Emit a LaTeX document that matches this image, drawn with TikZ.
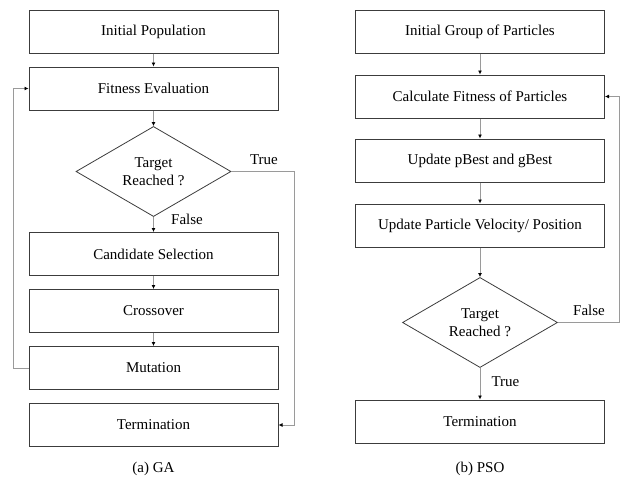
\documentclass[tikz,border=0pt]{standalone}
\usepackage{fontspec}
\setmainfont{Liberation Serif}
\usetikzlibrary{positioning,calc,shapes.geometric,arrows.meta}
\definecolor{boxline}{HTML}{3C3C3C}
\definecolor{flowline}{HTML}{9A9A9A}
\tikzset{box/.style={draw=boxline,line width=1pt,minimum width=249pt,minimum height=43pt,inner sep=0pt,font=\fontsize{15}{18}\selectfont},
  dec/.style={draw=boxline,line width=0.8pt,diamond,minimum width=155pt,minimum height=87pt,inner sep=0pt,align=center,font=\fontsize{15}{18}\selectfont},
  flow/.style={draw=flowline,line width=0.8pt,-{Latex[length=4pt,width=4pt,black]}},
  lbl/.style={font=\fontsize{15}{18}\selectfont,inner sep=0pt}}

\begin{document}
\begin{tikzpicture}[x=1pt,y=-1pt]
          \useasboundingbox (0,0) rectangle (622,479);

          % GA chain
          \node (init) [box] at (153.5,31.5) {Initial Population};
          \node (fit) [box,below=13pt of init] {Fitness Evaluation};
          \node (tgt) [dec] at (153.5,171.5) {Target\\Reached ?};
          \node (sel) [box] at (153.5,254) {Candidate Selection};
          \node (cross) [box,below=13pt of sel] {Crossover};
          \node (mut) [box,below=13pt of cross] {Mutation};
          \node (term) [box,below=13pt of mut] {Termination};

          \draw[flow] (init) -- (fit);
          \draw[flow] (fit) -- (tgt);
          \draw[flow] (tgt) -- (sel);
          \draw[flow] (sel) -- (cross);
          \draw[flow] (cross) -- (mut);
          \draw[flow] (tgt.east) -| ($(term.east)+(16,0)$) -- (term.east);
          \draw[flow] (mut.west) -| ($(fit.west)+(-15,0)$) -- (fit.west);

          \node (gtrue) [lbl] at (264,160) {True};
          \node (gfalse) [lbl] at (187,219) {False};
          \node (ga) [lbl] at (153.5,469) {(a) GA};

          % PSO chain
          \node (pinit) [box] at (480,31.5) {Initial Group of Particles};
          \node (pfit) [box,below=21pt of pinit] {Calculate Fitness of Particles};
          \node (pbest) [box,below=20pt of pfit] {Update pBest and gBest};
          \node (pupd) [box,below=21pt of pbest] {Update Particle Velocity/ Position};
          \node (ptgt) [dec] at (480,322.5) {Target\\Reached ?};
          \node (pterm) [box] at (480,421.5) {Termination};

          \draw[flow] (pinit) -- (pfit);
          \draw[flow] (pfit) -- (pbest);
          \draw[flow] (pbest) -- (pupd);
          \draw[flow] (pupd) -- (ptgt);
          \draw[flow] (ptgt) -- (pterm);
          \draw[flow] (ptgt.east) -| ($(pfit.east)+(14,0)$) -- (pfit.east);

          \node (pfalse) [lbl] at (589,310) {False};
          \node (ptrue) [lbl] at (505.5,382) {True};
          \node (pso) [lbl] at (480,469) {(b) PSO};
        \end{tikzpicture}
\end{document}
